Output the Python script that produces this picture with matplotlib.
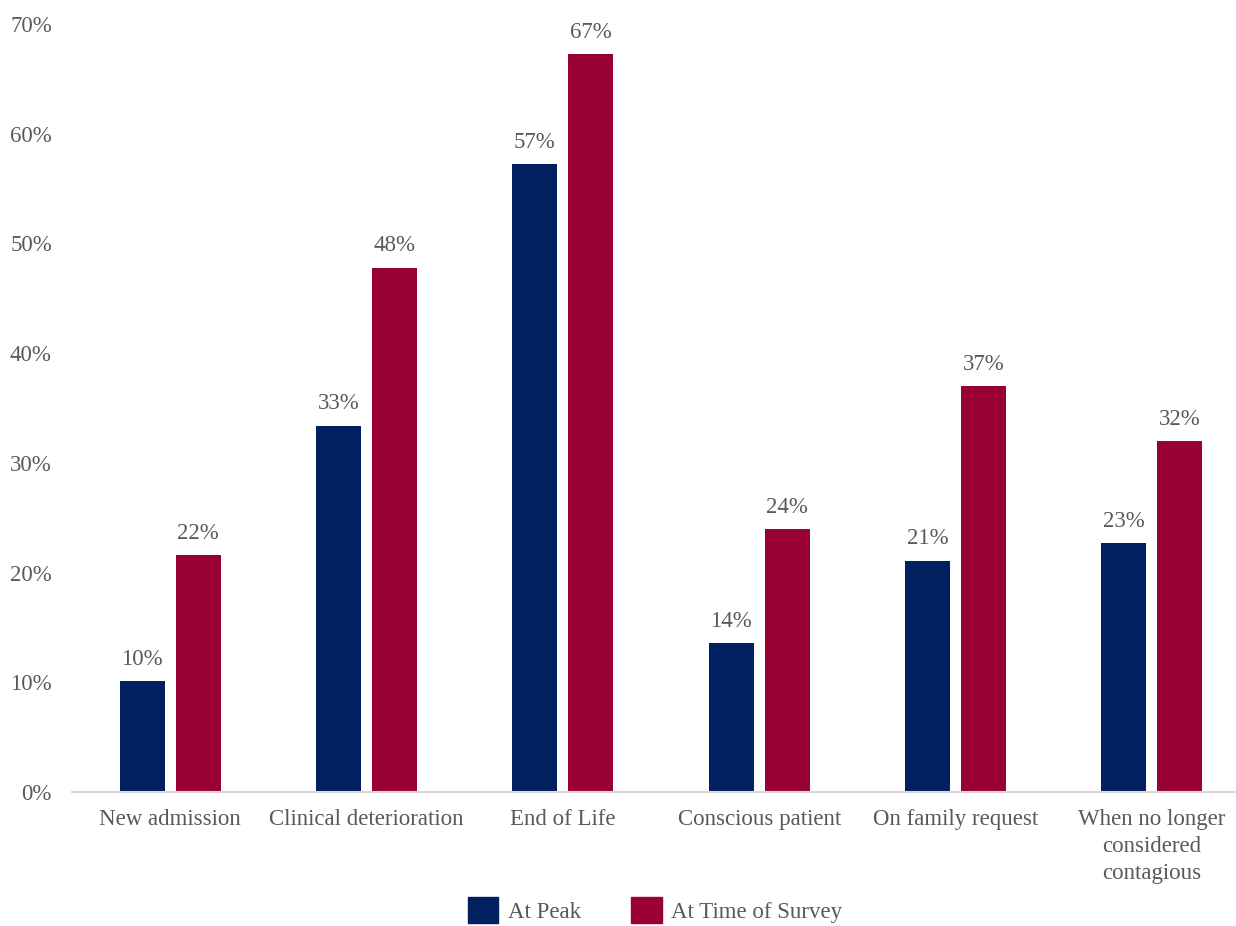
import matplotlib.pyplot as plt
import numpy as np
from matplotlib.patches import Patch

plt.rcParams['font.family'] = ['Liberation Serif', 'DejaVu Serif']

categories = ["New admission", "Clinical deterioration", "End of Life",
              "Conscious patient", "On family request",
              "When no longer\nconsidered\ncontagious"]
at_peak = [10.1, 33.4, 57.2, 13.6, 21.1, 22.7]
at_survey = [21.6, 47.8, 67.3, 24.0, 37.0, 32.0]
series_names = ["At Peak", "At Time of Survey"]

blue = "#002060"
red = "#990033"
grey = "#595959"
fs = 16.5

fig = plt.figure(figsize=(12.36, 9.26), dpi=100)
ax = fig.add_axes([72 / 1236, 134 / 926, 1 - 72 / 1236, (792 - 24) / 926])

x = np.arange(len(categories))
w = 0.23
off = 0.143
b1 = ax.bar(x - off, at_peak, w, color=blue)
b2 = ax.bar(x + off, at_survey, w, color=red)

for bars, vals in ((b1, at_peak), (b2, at_survey)):
    for b, v in zip(bars, vals):
        ax.annotate(f"{v:.0f}%", (b.get_x() + b.get_width() / 2, v),
                    xytext=(0, 8), textcoords="offset points",
                    ha="center", va="bottom", fontsize=fs, color=grey)

ax.set_xlim(-0.5, 5.5 - (1250 - 1236) / 196.4)
ax.set_ylim(0, 70)
ax.set_yticks(np.arange(0, 71, 10))
ax.set_yticklabels([f"{t}%" for t in range(0, 71, 10)])
ax.set_xticks(x)
ax.set_xticklabels(categories, linespacing=1.4)
ax.tick_params(axis="both", length=0, labelsize=fs, colors=grey)
ax.tick_params(axis="y", pad=14.5)
ax.tick_params(axis="x", pad=12)

for s in ("top", "right", "left"):
    ax.spines[s].set_visible(False)
ax.spines["bottom"].set_color("#d9d9d9")
ax.spines["bottom"].set_linewidth(1.5)

handles = [Patch(color=blue), Patch(color=red)]
fig.legend(handles, series_names, loc="center", bbox_to_anchor=(655 / 1236, 16 / 926),
           ncol=2, frameon=False, fontsize=fs, labelcolor=grey,
           handlelength=1.35, handleheight=1.35, handletextpad=0.4, columnspacing=2.2)

fig.savefig("out.png", dpi=100)
